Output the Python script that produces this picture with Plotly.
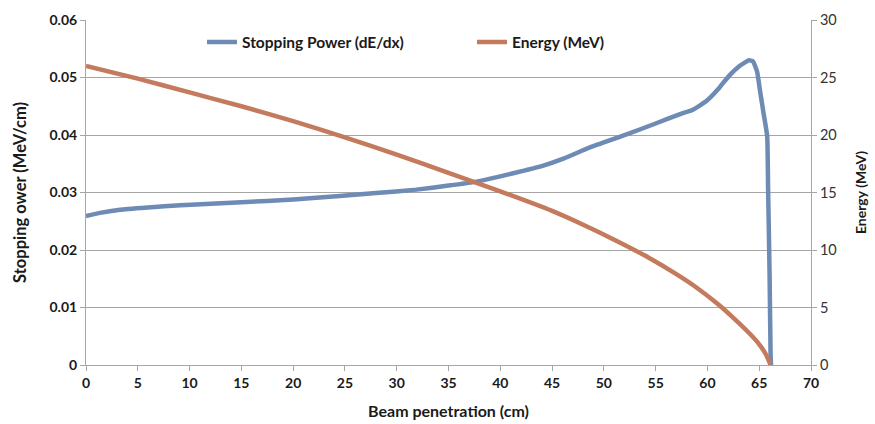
import plotly.graph_objects as go

# Stopping power (MeV/cm) vs depth (cm)
sp_x = [0, 1.5, 3.3, 6, 9.1, 15, 20, 24.5, 28, 31.9, 35, 37.4, 40, 42.5, 44, 46.1,
        48.6, 52.2, 55, 57.3, 58.6, 59.9, 61.0, 61.4, 62.2, 63.1, 63.6, 64.0, 64.4,
        64.8, 65.06, 65.4, 65.77, 65.86, 66.0, 66.1, 66.14]
sp_y = [0.0259, 0.0265, 0.0270, 0.0274, 0.0278, 0.0283, 0.0288, 0.0294, 0.0299, 0.0305,
        0.0312, 0.0318, 0.0328, 0.0339, 0.0346, 0.0359, 0.0378, 0.0401, 0.0420, 0.0436,
        0.0444, 0.0459, 0.0479, 0.0488, 0.0505, 0.0520, 0.0526, 0.0530, 0.0528, 0.0510,
        0.0479, 0.0440, 0.0398, 0.0305, 0.0160, 0.0015, 0.0]

# Energy (MeV) vs depth (cm)
en_x = [0, 5, 10, 15, 20, 25, 30, 35, 40, 45, 48, 51, 54, 57, 59, 61, 62.5, 64, 65,
        65.6, 66.1]
en_y = [26.0, 24.9, 23.7, 22.5, 21.2, 19.8, 18.3, 16.7, 15.1, 13.4, 12.2, 10.9, 9.5,
        7.9, 6.7, 5.3, 4.1, 2.8, 1.8, 1.0, 0.0]

x_ticks = list(range(0, 71, 5))
left_ticks = [0, 0.01, 0.02, 0.03, 0.04, 0.05, 0.06]
right_ticks = [0, 5, 10, 15, 20, 25, 30]

FONT = "Lato"
BLUE = "#6d8bb4"
ORANGE = "#c47a5c"
GRID = "#a6a6a6"
TXT = "#1a1a1a"

fig = go.Figure()
fig.add_trace(go.Scatter(x=sp_x, y=sp_y, mode="lines", name="Stopping Power (dE/dx)",
                         line=dict(color=BLUE, width=4.5, shape="spline", smoothing=0.4)))
fig.add_trace(go.Scatter(x=en_x, y=en_y, mode="lines", name="Energy (MeV)", yaxis="y2",
                         line=dict(color=ORANGE, width=4.5, shape="spline", smoothing=0.6)))

fig.update_layout(
    width=875, height=424,
    margin=dict(l=86, r=64, t=20, b=59, autoexpand=False),
    paper_bgcolor="white", plot_bgcolor="white",
    font=dict(family=FONT, color=TXT),
    showlegend=True,
    legend=dict(orientation="h", x=0.16, y=0.935, xanchor="left", yanchor="middle",
                font=dict(size=15.5, family=FONT, color=TXT, weight="bold"),
                bgcolor="rgba(0,0,0,0)", entrywidth=225, entrywidthmode="pixels",
                itemwidth=30),
    xaxis=dict(range=[0, 70], tickvals=x_ticks, ticktext=[str(t) for t in x_ticks],
               showgrid=False, showline=True, linecolor=GRID, linewidth=1,
               ticks="outside", ticklen=5, tickcolor=GRID, zeroline=False,
               automargin=False,
               tickfont=dict(size=14, family=FONT, color=TXT, weight="bold"),
               title=dict(text="Beam penetration (cm)", standoff=16,
                          font=dict(size=16, family=FONT, color=TXT, weight="bold"))),
    yaxis=dict(range=[0, 0.06], tickvals=left_ticks,
               ticktext=["0", "0.01", "0.02", "0.03", "0.04", "0.05", "0.06"],
               showgrid=True, gridcolor=GRID, gridwidth=1, showline=True,
               linecolor=GRID, ticks="outside", ticklen=5, tickcolor=GRID, zeroline=False,
               automargin=False,
               tickfont=dict(size=14, family=FONT, color=TXT, weight="bold"),
               title=dict(text="Stopping ower (MeV/cm)", standoff=18,
                          font=dict(size=16.5, family=FONT, color=TXT, weight="bold"))),
    yaxis2=dict(range=[0, 30], tickvals=right_ticks, overlaying="y", side="right",
                showgrid=False, showline=True, linecolor=GRID, ticks="outside",
                ticklen=5, tickcolor=GRID, zeroline=False, automargin=False,
                tickfont=dict(size=14.5, family=FONT, color="#333333"),
                title=dict(text="Energy (MeV)", standoff=20,
                           font=dict(size=14, family=FONT, color=TXT, weight="bold"))),
)

fig.write_html("out.html")
